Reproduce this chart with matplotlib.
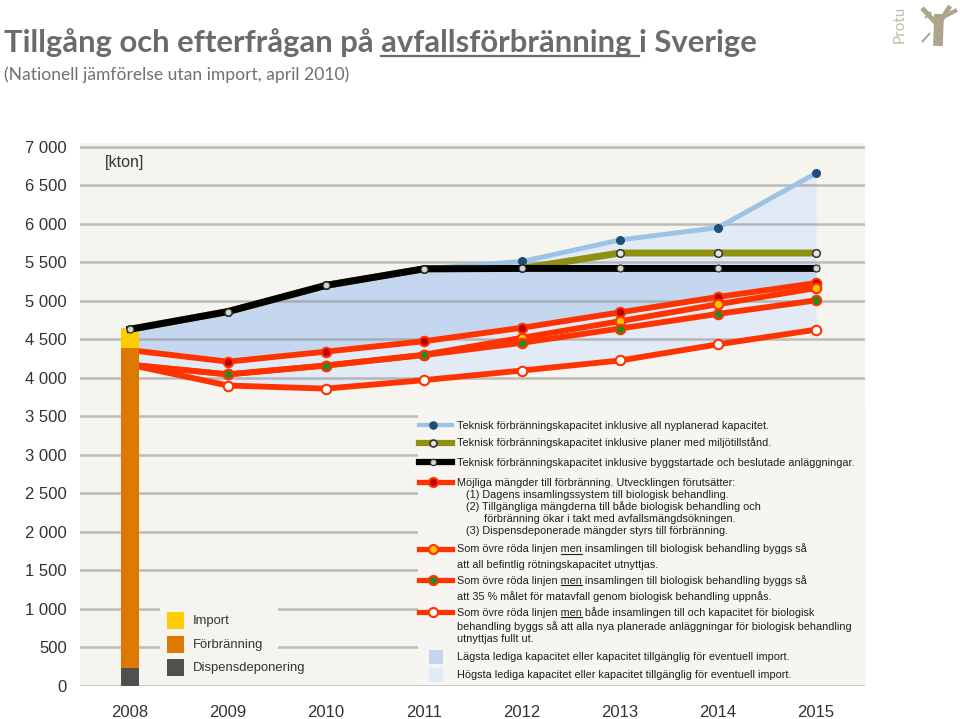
import matplotlib

matplotlib.use("Agg")
import matplotlib.pyplot as plt
from matplotlib.lines import Line2D
from matplotlib.patches import Rectangle

# kton per year
YEARS = [2008, 2009, 2010, 2011, 2012, 2013, 2014, 2015]
CAP_ALL = [4630, 4860, 5200, 5415, 5510, 5790, 5950, 6655]
CAP_PERMIT = [4630, 4860, 5200, 5415, 5420, 5620, 5620, 5620]
CAP_BUILT = [4630, 4860, 5200, 5415, 5420, 5420, 5420, 5420]
DEMAND_BASE = [4360, 4210, 4340, 4475, 4650, 4850, 5050, 5230]
DEMAND_ROT = [4170, 4045, 4160, 4300, 4520, 4735, 4955, 5165]
DEMAND_35 = [4170, 4045, 4160, 4295, 4455, 4640, 4830, 5005]
DEMAND_ALL = [4170, 3900, 3860, 3970, 4095, 4225, 4435, 4625]

# 2008 bar
BAR_DISPENS = 235
BAR_INCINERATION = 4146
BAR_IMPORT = 270

Y_TICKS = [0, 500, 1000, 1500, 2000, 2500, 3000, 3500, 4000, 4500, 5000, 5500, 6000, 6500, 7000]
Y_TICK_LABELS = ["0", "500", "1 000", "1 500", "2 000", "2 500", "3 000", "3 500",
                 "4 000", "4 500", "5 000", "5 500", "6 000", "6 500", "7 000"]

TITLE_PRE = "Tillgång och efterfrågan på "
TITLE_UL = "avfallsförbränning "
TITLE_POST = "i Sverige"
SUBTITLE = "(Nationell jämförelse utan import, april 2010)"

BAR_LABELS = ["Import", "Förbränning", "Dispensdeponering"]

LEGEND_CAP = [
    "Teknisk förbränningskapacitet inklusive all nyplanerad kapacitet.",
    "Teknisk förbränningskapacitet inklusive planer med miljötillstånd.",
    "Teknisk förbränningskapacitet inklusive byggstartade och beslutade anläggningar.",
]
LEGEND_BASE = [
    "Möjliga mängder till förbränning. Utvecklingen förutsätter:",
    "   (1) Dagens insamlingssystem till biologisk behandling.",
    "   (2) Tillgängliga mängderna till både biologisk behandling och",
    "         förbränning ökar i takt med avfallsmängdsökningen.",
    "   (3) Dispensdeponerade mängder styrs till förbränning.",
]
LEGEND_ROT = [
    "Som övre röda linjen men insamlingen till biologisk behandling byggs så",
    "att all befintlig rötningskapacitet utnyttjas.",
]
LEGEND_35 = [
    "Som övre röda linjen men insamlingen till biologisk behandling byggs så",
    "att 35 % målet för matavfall genom biologisk behandling uppnås.",
]
LEGEND_ALL = [
    "Som övre röda linjen men både insamlingen till och kapacitet för biologisk",
    "behandling byggs så att alla nya planerade anläggningar för biologisk behandling",
    "utnyttjas fullt ut.",
]
LEGEND_FILL = [
    "Lägsta lediga kapacitet eller kapacitet tillgänglig för eventuell import.",
    "Högsta lediga kapacitet eller kapacitet tillgänglig för eventuell import.",
]

RED = "#ff3300"
BG = "#f5f4ee"
TEXT = "#1e1e1e"
W, H = 960, 719


def fx(x):
    return x / W


def fy(y):
    return 1 - y / H


def text_width(fig, s, **kw):
    r = fig.canvas.get_renderer()
    t1 = fig.text(0, 0, s + "|", **kw)
    t2 = fig.text(0, 0, "|", **kw)
    w = t1.get_window_extent(r).width - t2.get_window_extent(r).width
    t1.remove()
    t2.remove()
    return w


def underline(fig, x, y, pre, word, line_color, lw, offset, **kw):
    x0 = x + text_width(fig, pre, **kw)
    x1 = x + text_width(fig, pre + word, **kw)
    fig.add_artist(Line2D([fx(x0), fx(x1)], [fy(y + offset)] * 2, color=line_color, lw=lw))


fig = plt.figure(figsize=(9.6, 7.19), dpi=100)
ax = fig.add_axes([fx(80), fy(686), (865 - 80) / W, (686 - 143) / H])
ax.set_facecolor(BG)
ax.set_xlim(2007.49, 2015.5)
ax.set_ylim(0, 7048)
for s in ax.spines.values():
    s.set_visible(False)

# available capacity areas
ax.fill_between(YEARS, DEMAND_ALL, CAP_ALL, color="#e2eaf5", lw=0, zorder=1)
ax.fill_between(YEARS, DEMAND_BASE, CAP_BUILT, color="#c4d7ee", lw=0, zorder=1.5)

for y in Y_TICKS:
    ax.axhline(y, color="#8c8c8c", alpha=0.55, lw=1.8, zorder=2.5)

# 2008 bar
ax.bar(2008, BAR_DISPENS, width=0.19, color="#505050", zorder=6)
ax.bar(2008, BAR_INCINERATION, bottom=BAR_DISPENS, width=0.19, color="#dd7800", zorder=6)
ax.bar(2008, BAR_IMPORT, bottom=BAR_DISPENS + BAR_INCINERATION, width=0.19,
       color="#ffcc00", zorder=6)

RED_MS = 6.8
ax.plot(YEARS, DEMAND_ALL, color=RED, lw=4.2, marker="o", ms=RED_MS, mfc="white", mec=RED,
        mew=1.5, zorder=4.1)
ax.plot(YEARS, DEMAND_BASE, color=RED, lw=4.2, marker="o", ms=RED_MS, mfc="#c00000",
        mec=RED, mew=1.5, zorder=4.2)
ax.plot(YEARS, DEMAND_ROT, color=RED, lw=4.2, marker="o", ms=RED_MS, mfc="#ffc000",
        mec=RED, mew=1.5, zorder=4.3)
ax.plot(YEARS, DEMAND_35, color=RED, lw=4.2, marker="o", ms=RED_MS, mfc="#2a8a1f",
        mec=RED, mew=1.5, zorder=4.4)
ax.plot(YEARS, CAP_ALL, color="#9cc2e6", lw=3.5, marker="o", ms=5.5, mfc="#1f4e79",
        mec="#1f4e79", zorder=4.5)
ax.plot(YEARS, CAP_PERMIT, color="#8f8f10", lw=5, marker="o", ms=5.5, mfc="#e3e3e3",
        mec="#333333", mew=1.1, zorder=4.6)
ax.plot(YEARS, CAP_BUILT, color="black", lw=5, marker="o", ms=5, mfc="#d4d4d4",
        mec="#333333", mew=0.9, zorder=6.5)

ax.set_yticks(Y_TICKS, Y_TICK_LABELS)
ax.set_xticks(YEARS, [str(y) for y in YEARS])
ax.tick_params(axis="both", length=0, labelsize=12, colors="#333333")
ax.tick_params(axis="y", pad=9.5)
ax.tick_params(axis="x", pad=14)
for lab in ax.get_xticklabels() + ax.get_yticklabels():
    lab.set_family("Liberation Sans")

fig.text(fx(105), fy(163), "[kton]", fontsize=11.5, color="#333333",
         family="Liberation Sans", va="center")

# title
tkw = dict(fontsize=22.3, fontweight="bold", color="#6b6b6b", family="Lato")
fig.text(fx(4), fy(52), TITLE_PRE + TITLE_UL + TITLE_POST, va="baseline", **tkw)
underline(fig, 4, 52, TITLE_PRE, TITLE_UL, "#6b6b6b", 1.6, 4, **tkw)
fig.text(fx(4), fy(80), SUBTITLE, va="baseline", fontsize=12.6, color="#707070",
         family="Lato")

# logo
fig.text(fx(900), fy(24), "Protu", rotation=90, fontsize=11, color="#c4bba3",
         family="Lato", va="center", ha="center")
for xs, ys, lw in [([938, 939], [46, 14], 7), ([937, 922], [24, 8], 3.5),
                   ([940, 950], [22, 6], 3.5), ([941, 957], [18, 10], 3),
                   ([930, 922], [33, 42], 1.5), ([925, 931], [18, 12], 1.5)]:
    fig.add_artist(Line2D([fx(v) for v in xs], [fy(v) for v in ys], color="#ada58c",
                          lw=lw, solid_capstyle="butt"))

# left legend (bar)
fig.add_artist(Rectangle((fx(160), fy(684)), 118 / W, 79 / H, transform=fig.transFigure,
                         facecolor=BG, edgecolor="none", zorder=1))
for lab, col, yc in zip(BAR_LABELS, ["#ffcc00", "#dd7800", "#505050"], [621, 645, 668]):
    fig.add_artist(Rectangle((fx(167), fy(yc + 8)), 17 / W, 17 / H,
                             transform=fig.transFigure, facecolor=col, edgecolor="none",
                             zorder=2))
    fig.text(fx(193), fy(yc), lab, fontsize=9.4, color="#333333", va="center",
             family="Liberation Sans", zorder=3)

# right legend
fig.add_artist(Rectangle((fx(418), fy(684)), 448 / W, 276 / H, transform=fig.transFigure,
                         facecolor="#f6f5f1", edgecolor="none", zorder=1))
lkw = dict(fontsize=7.8, color=TEXT, family="Liberation Sans")
TX = 457


def legend_block(lines, ys, ul=False):
    for i, (s, yc) in enumerate(zip(lines, ys)):
        fig.text(fx(TX), fy(yc + 3.5), s, va="baseline", zorder=3, **lkw)
        if ul and i == 0:
            underline(fig, TX, yc + 3.5, "Som övre röda linjen ", "men", TEXT, 0.8, 1.5,
                      **lkw)


def sample(yc, color, lw, mfc, mec, ms, mew=1.2):
    ln = Line2D([fx(419), fx(433), fx(452)], [fy(yc)] * 3, color=color, lw=lw,
                marker="o", markevery=[1], ms=ms, mfc=mfc, mec=mec, mew=mew, zorder=2)
    fig.add_artist(ln)


sample(425, "#9cc2e6", 3, "#1f4e79", "#1f4e79", 5)
sample(443, "#8f8f10", 4.5, "#e3e3e3", "#333333", 5)
sample(462, "black", 4.5, "#d4d4d4", "#333333", 4.5, 0.9)
legend_block(LEGEND_CAP, [425, 443, 462])

sample(482, RED, 3.8, "#c00000", RED, 6.5, 1.5)
legend_block(LEGEND_BASE, [482, 494, 506, 518, 531])
sample(549, RED, 3.8, "#ffc000", RED, 6.5, 1.5)
legend_block(LEGEND_ROT, [549, 564], ul=True)
sample(580, RED, 3.8, "#2a8a1f", RED, 6.5, 1.5)
legend_block(LEGEND_35, [580, 596], ul=True)
sample(612, RED, 3.8, "white", RED, 6.5, 1.5)
legend_block(LEGEND_ALL, [612, 626, 639], ul=True)

for col, yc in zip(["#c4d7ee", "#e2eaf5"], [657, 675]):
    fig.add_artist(Rectangle((fx(429), fy(yc + 7)), 14 / W, 14 / H,
                             transform=fig.transFigure, facecolor=col, edgecolor="none",
                             zorder=2))
legend_block(LEGEND_FILL, [657, 675])

fig.savefig("out.png", dpi=100, facecolor="white")
